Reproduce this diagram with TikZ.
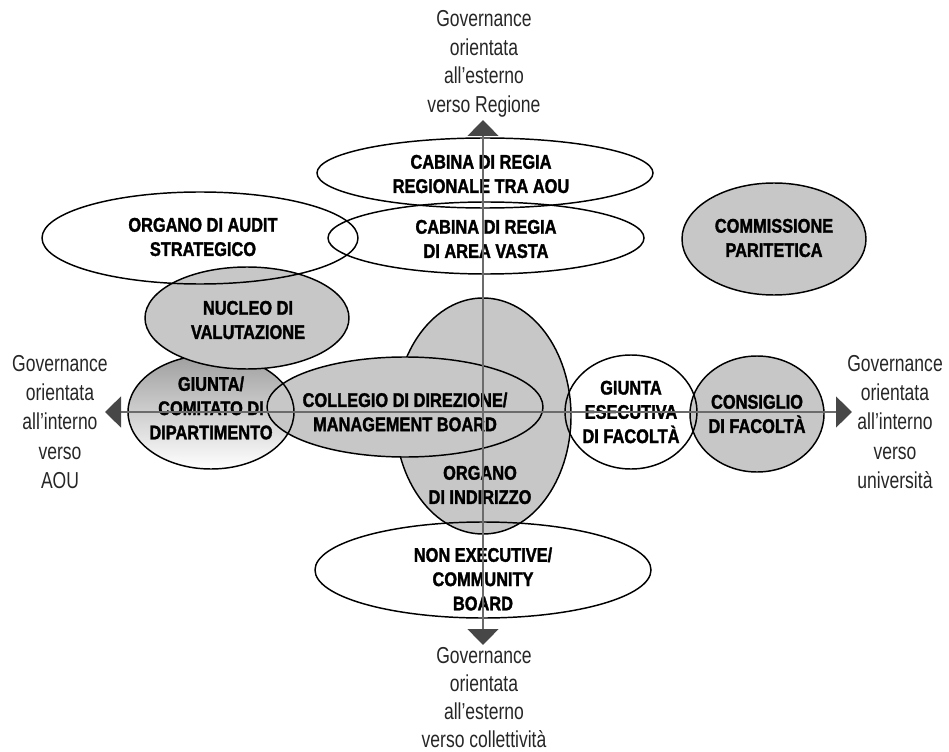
\documentclass[tikz,border=0pt]{standalone}
\usepackage{fontspec}
\setmainfont{Liberation Sans}[FakeStretch=0.76]
\newfontfamily\boardfont{Liberation Sans}[FakeStretch=0.83,BoldFeatures={FakeBold=1.6}]
\usetikzlibrary{arrows.meta}

\begin{document}
\begin{tikzpicture}[x=0.75pt,y=-0.75pt,
  ring/.style={draw=black,line width=1.1pt},
  grayfill/.style={fill=black!22},
  lbl/.style={font=\boardfont\bfseries\fontsize{14.8}{18.2}\selectfont,align=center,inner sep=0pt},
  axlbl/.style={font=\fontsize{17.3}{21.5}\selectfont,align=center,inner sep=0pt,text=black!85},
  axis/.style={draw=black!58,line width=2pt,
    {Triangle[length=12pt,width=23pt,color=black!72]}-{Triangle[length=12pt,width=23pt,color=black!72]}}]
\useasboundingbox (0,0) rectangle (949,752);
% central bodies
\path[grayfill,ring] (483,416) ellipse [x radius=88,y radius=118];
\shade[top color=black!38,bottom color=white] (211,412) ellipse [x radius=83,y radius=57];
\path[grayfill] (405,407) ellipse [x radius=138,y radius=50];
\path[ring] (211,412) ellipse [x radius=83,y radius=57];
\path[ring] (405,407) ellipse [x radius=138,y radius=50];
% left column
\path[grayfill,ring] (247,318) ellipse [x radius=102,y radius=51];
\path[ring] (200,238) ellipse [x radius=158,y radius=46];
% top bodies
\path[ring] (485,173) ellipse [x radius=168,y radius=35];
\path[ring] (486,238) ellipse [x radius=158,y radius=36];
% right side
\path[grayfill,ring] (774,239) ellipse [x radius=92,y radius=56];
\path[grayfill] (757,414) ellipse [x radius=67,y radius=58];
\path[ring] (631,412) ellipse [x radius=66,y radius=57];
\path[ring] (757,414) ellipse [x radius=67,y radius=58];
% bottom body
\path[ring] (483,570) ellipse [x radius=168,y radius=48];
% labels of the bodies
\node[lbl] (cabreg) at (481,174) {CABINA DI REGIA\\REGIONALE TRA AOU};
\node[lbl] (cabav) at (486,239) {CABINA DI REGIA\\DI AREA VASTA};
\node[lbl] (audit) at (203,237) {ORGANO DI AUDIT\\STRATEGICO};
\node[lbl] (nucleo) at (248,320) {NUCLEO DI\\VALUTAZIONE};
\node[lbl] (giudip) at (211,408) {GIUNTA/\\COMITATO DI\\DIPARTIMENTO};
\node[lbl] (collegio) at (405,412) {COLLEGIO DI DIREZIONE/\\MANAGEMENT BOARD};
\node[lbl] (indirizzo) at (480,485) {ORGANO\\DI INDIRIZZO};
\node[lbl] (nonexec) at (483,579) {NON EXECUTIVE/\\COMMUNITY\\BOARD};
\node[lbl] (giuese) at (631,412) {GIUNTA\\ESECUTIVA\\DI FACOLTÀ};
\node[lbl] (consiglio) at (757,414) {CONSIGLIO\\DI FACOLTÀ};
\node[lbl] (commiss) at (774,238) {COMMISSIONE\\PARITETICA};
% axes
\coordinate (axN) at (483,120);
\coordinate (axS) at (483,645);
\coordinate (axW) at (105,412);
\coordinate (axE) at (852,412);
\draw[axis] (axW) -- (axE);
\draw[axis] (axN) -- (axS);
% axis captions
\node[axlbl] (govN) at (484,64) {Governance\\orientata\\all’esterno\\verso Regione};
\node[axlbl,font=\fontsize{17.3}{21}\selectfont] (govS) at (484,698) {Governance\\orientata\\all’esterno\\verso collettività};
\node[axlbl,font=\fontsize{17.3}{22}\selectfont] (govW) at (60,422) {Governance\\orientata\\all’interno\\verso\\AOU};
\node[axlbl,font=\fontsize{17.3}{22}\selectfont] (govE) at (895,422) {Governance\\orientata\\all’interno\\verso\\università};
\end{tikzpicture}
\end{document}
